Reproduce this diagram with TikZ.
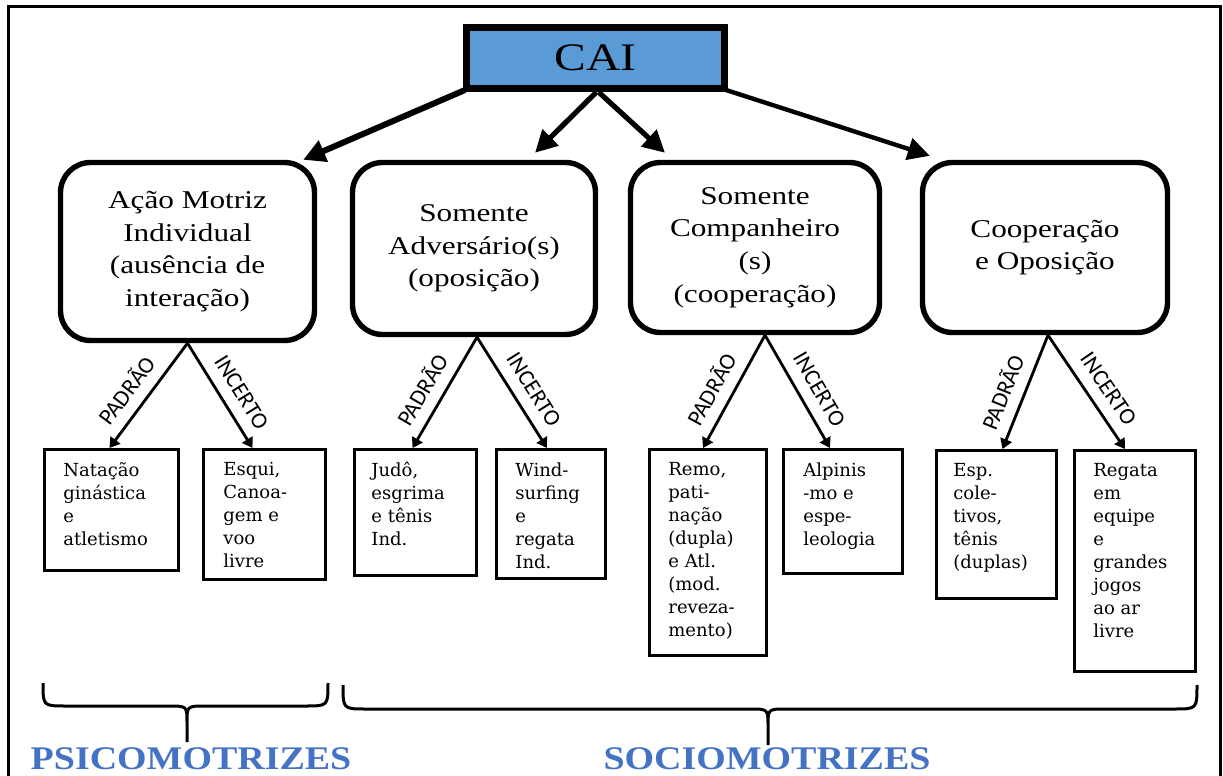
\documentclass[tikz,border=0pt]{standalone}
\usepackage{fontspec}
\setmainfont{Liberation Serif}
\newfontfamily\boxfont[FakeStretch=1.22]{Liberation Serif}
\newfontfamily\leaffont{DejaVu Serif}
\newfontfamily\lblfont{Carlito}
\newfontfamily\catfont[FakeStretch=1.15]{Liberation Serif}
\usetikzlibrary{arrows.meta}
\definecolor{caiblue}{RGB}{91,155,213}
\definecolor{catblue}{RGB}{68,114,196}
\begin{document}
\begin{tikzpicture}[x=0.5pt,y=-0.5pt,
  cai/.style={draw, line width=3.5pt, fill=caiblue, minimum width=129pt, minimum height=30.5pt, inner sep=0pt,
    font=\boxfont\fontsize{19.5}{22}\selectfont},
  mainbox/.style={draw, line width=2.7pt, rounded corners=15pt, align=center, inner sep=0pt,
    font=\boxfont\fontsize{12.8}{16.3}\selectfont},
  leaf/.style={draw, line width=1.5pt, inner sep=0pt},
  leaftext/.style={anchor=north west, inner sep=0pt, align=left,
    font=\leaffont\fontsize{9}{11.5}\selectfont},
  bigarrow/.style={line width=2.6pt, -{Triangle[length=11pt,width=11pt]}},
  smallarrow/.style={line width=1.4pt, -{Triangle[length=5pt,width=6pt]}},
  branchlbl/.style={sloped, above=4.5pt, pos=0.57, inner sep=1pt, font=\lblfont\fontsize{11.5}{12}\selectfont},
  bracepath/.style={line width=1.5pt},
  cat/.style={text=catblue, inner sep=0pt, font=\catfont\bfseries\fontsize{16.5}{18}\selectfont}
]
\useasboundingbox (0,0) rectangle (1223,776);
% outer frame
\draw[line width=1.5pt] (8,780) -- (8,6) -- (1220,6) -- (1220,780);

% top node
\node[cai] (cai) at (595.5,58) {CAI};

% main boxes
\node[mainbox, minimum width=127pt, minimum height=89pt] (b1) at (187.5,251.5)
  {Ação Motriz\\Individual\\(ausência de\\interação)};
\node[mainbox, minimum width=121.5pt, minimum height=86pt] (b2) at (474,248.5)
  {Somente\\Adversário(s)\\(oposição)};
\node[mainbox, minimum width=124.5pt, minimum height=85pt] (b3) at (755,247.5)
  {Somente\\Companheiro\\(s)\\(cooperação)};
\node[mainbox, minimum width=122.5pt, minimum height=85pt] (b4) at (1045,247.5)
  {Cooperação\\e Oposição};

% arrows from CAI
\draw[bigarrow, line width=3pt] ([shift={(2,-2)}]cai.south west) -- ([shift={(-14,0)}]b1.north east);
\draw[bigarrow] ([shift={(1,0)}]cai.south) -- ([shift={(61,-7)}]b2.north);
\draw[bigarrow] ([shift={(3,0)}]cai.south) -- ([shift={(-90,-7)}]b3.north);
\draw[bigarrow, line width=2.2pt] ([shift={(-2,-2)}]cai.south east) -- ([shift={(10,-4)}]b4.north west);

% leaf boxes
\node[leaf, minimum width=67pt, minimum height=60.5pt] (l1) at (111.5,510) {};
\node[leaf, minimum width=61pt, minimum height=65pt] (l2) at (264.5,514.5) {};
\node[leaf, minimum width=61pt, minimum height=63pt] (l3) at (415.5,512.5) {};
\node[leaf, minimum width=54.5pt, minimum height=64.5pt] (l4) at (551,514) {};
\node[leaf, minimum width=58.5pt, minimum height=103pt] (l5) at (708,552.5) {};
\node[leaf, minimum width=59.5pt, minimum height=62pt] (l6) at (843,511.5) {};
\node[leaf, minimum width=60pt, minimum height=74pt] (l7) at (996.5,524.5) {};
\node[leaf, minimum width=60.5pt, minimum height=110.5pt] (l8) at (1135,561) {};

% leaf texts
\node[leaftext] (t1) at ([shift={(20,14)}]l1.north west) {Natação\\ginástica\\e\\atletismo};
\node[leaftext] (t2) at ([shift={(21,14)}]l2.north west) {Esqui,\\Canoa-\\gem e\\voo\\livre};
\node[leaftext] (t3) at ([shift={(18,14)}]l3.north west) {Judô,\\esgrima\\e tênis\\Ind.};
\node[leaftext] (t4) at ([shift={(20,14)}]l4.north west) {Wind-\\surfing\\e\\regata\\Ind.};
\node[leaftext] (t5) at ([shift={(20,14)}]l5.north west) {Remo,\\pati-\\nação\\(dupla)\\e Atl.\\(mod.\\reveza-\\mento)};
\node[leaftext] (t6) at ([shift={(21,14)}]l6.north west) {Alpinis\\-mo e\\espe-\\leologia};
\node[leaftext] (t7) at ([shift={(18,14)}]l7.north west) {Esp.\\cole-\\tivos,\\tênis\\(duplas)};
\node[leaftext] (t8) at ([shift={(20,14)}]l8.north west) {Regata\\em\\equipe\\e\\grandes\\jogos\\ao ar\\livre};

% branch arrows
\draw[smallarrow] (b1.south) -- node[branchlbl] (p1) {PADRÃO} ([shift={(-2,0)}]l1.north);
\draw[smallarrow] (b1.south) -- node[branchlbl] (i1) {INCERTO} ([shift={(-12,0)}]l2.north);
\draw[smallarrow] ([shift={(3,0)}]b2.south) -- node[branchlbl] (p2) {PADRÃO} ([shift={(-3,0)}]l3.north);
\draw[smallarrow] ([shift={(3,0)}]b2.south) -- node[branchlbl] (i2) {INCERTO} ([shift={(-4,0)}]l4.north);
\draw[smallarrow] ([shift={(10,0)}]b3.south) -- node[branchlbl] (p3) {PADRÃO} ([shift={(-5,0)}]l5.north);
\draw[smallarrow] ([shift={(10,0)}]b3.south) -- node[branchlbl] (i3) {INCERTO} ([shift={(-13,0)}]l6.north);
\draw[smallarrow] ([shift={(3,0)}]b4.south) -- node[branchlbl] (p4) {PADRÃO} ([shift={(6,0)}]l7.north);
\draw[smallarrow] ([shift={(3,0)}]b4.south) -- node[branchlbl] (i4) {INCERTO} ([shift={(-10,0)}]l8.north);

% braces
\draw[bracepath] (43,683) .. controls (43,706) .. (66,706) -- (168,706)
  .. controls (187,706) .. (187,722) -- (187,742)
  (187,722) .. controls (187,706) .. (206,706) -- (305,706) .. controls (328,706) .. (328,683);
\draw[bracepath] (343,685) .. controls (343,709) .. (366,709) -- (749,709)
  .. controls (768,709) .. (768,725) -- (768,745)
  (768,725) .. controls (768,709) .. (787,709) -- (1174,709) .. controls (1197,709) .. (1197,685);

% category labels
\node[cat] (psi) at (191,759) {PSICOMOTRIZES};
\node[cat] (socio) at (767,759) {SOCIOMOTRIZES};
\end{tikzpicture}
\end{document}
